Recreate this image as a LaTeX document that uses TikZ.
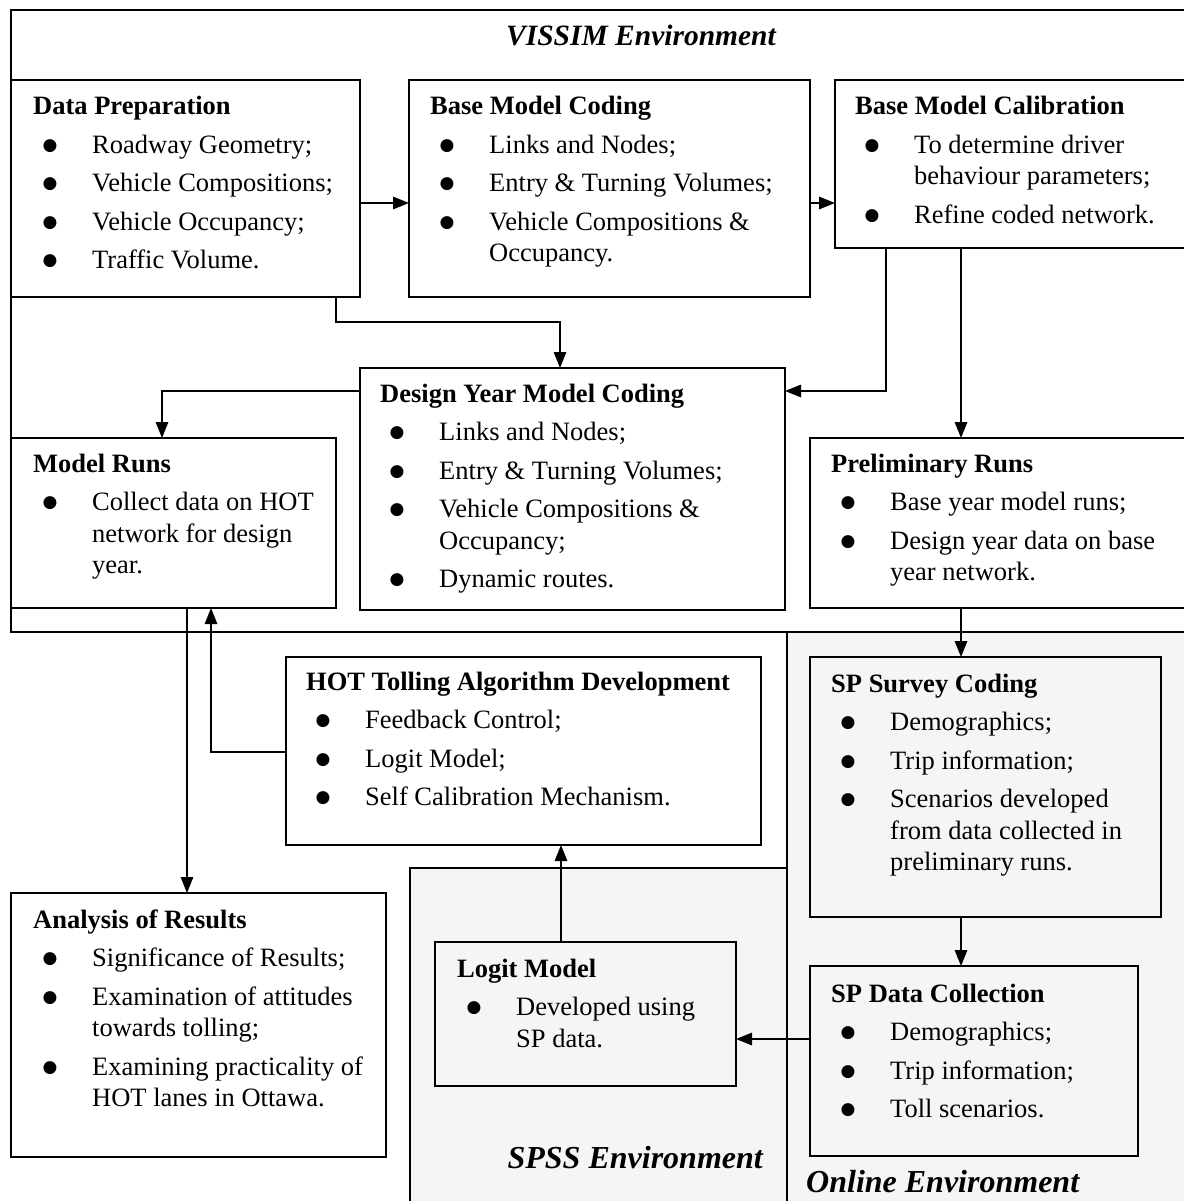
\documentclass[tikz,border=0pt]{standalone}
\usepackage{fontspec}
\setmainfont{Liberation Serif}
\newfontfamily\symfont{DejaVu Sans}
\usetikzlibrary{arrows.meta}
\newcommand{\bodyfont}{\fontsize{26.5pt}{38.5pt}\selectfont}
\newcommand{\bul}{\hbox to 59pt{\hskip 9.5pt\raisebox{3pt}{\symfont\fontsize{17pt}{17pt}\selectfont ●}\hfil}}
\newcommand{\Ttl}[1]{\hbox{\bfseries #1}}
\newcommand{\Itm}[1]{\hbox{\bul #1}}
\newcommand{\Cnt}[1]{\vskip-7pt\hbox{\hskip59pt #1}}
\newcommand{\Content}[1]{\vtop{\baselineskip=38.5pt\lineskiplimit=-100pt\lineskip=0pt #1}}
\tikzset{
  box/.style={draw, line width=1.8pt, inner sep=0pt, outer sep=0pt, rectangle},
  env/.style={draw, line width=2pt, inner sep=0pt, outer sep=0pt, rectangle},
  envfill/.style={env, fill=black!4},
  arr/.style={line width=1.5pt, -{Triangle[length=16pt,width=12.5pt]}},
  envlabel/.style={inner sep=0pt},
  txt/.style={anchor=base west, inner sep=0pt, font=\bodyfont}
}
\newcommand{\bx}[6][box]{\node[#1,anchor=north west,minimum width={(#5-#3)*1pt},minimum height={(#6-#4)*1pt}] (#2) at (#3,#4) {};}
\newcommand{\tx}[4]{\node[txt] (#1) at (#2,#3) {\Content{#4}};}
\begin{document}
\begin{tikzpicture}[x=1pt,y=-1pt]
\useasboundingbox (0,0) rectangle (1183,1201);
% environments
\bx[envfill]{spss}{410}{868}{787}{1215}
\bx[envfill]{online}{787}{632}{1200}{1215}
\bx[env]{vissim}{11}{10}{1200}{632}
\node[envlabel, anchor=base, font=\fontsize{29.5pt}{34pt}\selectfont\bfseries\itshape] (vissimL) at (641,46) {VISSIM Environment};
\node[envlabel, anchor=base east, font=\fontsize{32pt}{36pt}\selectfont\bfseries\itshape] (spssL) at (763,1168) {SPSS Environment};
\node[envlabel, anchor=base west, font=\fontsize{32pt}{36pt}\selectfont\bfseries\itshape] (onlineL) at (806,1192) {Online Environment};
% boxes
\bx{dp}{11}{80}{360}{297}
\bx{bmc}{409}{80}{810}{297}
\bx{bmcal}{835}{80}{1200}{248}
\bx{dymc}{360}{368}{785}{610}
\bx{mr}{11}{438}{336}{608}
\bx{pr}{810}{438}{1200}{608}
\bx{hot}{286}{657}{761}{845}
\bx{spsc}{810}{657}{1161}{917}
\bx{ar}{11}{893}{386}{1157}
\bx{logit}{435}{942}{736}{1086}
\bx{spdc}{810}{966}{1138}{1156}
% texts
\tx{dpT}{33}{115}{\Ttl{Data Preparation}\Itm{Roadway Geometry;}\Itm{Vehicle Compositions;}\Itm{Vehicle Occupancy;}\Itm{Traffic Volume.}}
\tx{bmcT}{430}{115}{\Ttl{Base Model Coding}\Itm{Links and Nodes;}\Itm{Entry \& Turning Volumes;}\Itm{Vehicle Compositions \&}\Cnt{Occupancy.}}
\tx{bmcalT}{855}{115}{\Ttl{Base Model Calibration}\Itm{To determine driver}\Cnt{behaviour parameters;}\Itm{Refine coded network.}}
\tx{dymcT}{380}{402}{\Ttl{Design Year Model Coding}\Itm{Links and Nodes;}\Itm{Entry \& Turning Volumes;}\Itm{Vehicle Compositions \&}\Cnt{Occupancy;}\Itm{Dynamic routes.}}
\tx{mrT}{33}{472}{\Ttl{Model Runs}\Itm{Collect data on HOT}\Cnt{network for design}\Cnt{year.}}
\tx{prT}{831}{472}{\Ttl{Preliminary Runs}\Itm{Base year model runs;}\Itm{Design year data on base}\Cnt{year network.}}
\tx{hotT}{306}{690}{\Ttl{HOT Tolling Algorithm Development}\Itm{Feedback Control;}\Itm{Logit Model;}\Itm{Self Calibration Mechanism.}}
\tx{spscT}{831}{692}{\Ttl{SP Survey Coding}\Itm{Demographics;}\Itm{Trip information;}\Itm{Scenarios developed}\Cnt{from data collected in}\Cnt{preliminary runs.}}
\tx{arT}{33}{928}{\Ttl{Analysis of Results}\Itm{Significance of Results;}\Itm{Examination of attitudes}\Cnt{towards tolling;}\Itm{Examining practicality of}\Cnt{HOT lanes in Ottawa.}}
\tx{logitT}{457}{977}{\Ttl{Logit Model}\Itm{Developed using}\Cnt{SP data.}}
\tx{spdcT}{831}{1002}{\Ttl{SP Data Collection}\Itm{Demographics;}\Itm{Trip information;}\Itm{Toll scenarios.}}
% connectors
\draw[arr] (dp.east |- 0,203) -- (bmc.west |- 0,203);
\draw[arr] (bmc.east |- 0,203) -- (bmcal.west |- 0,203);
\draw[arr] (dp.south -| 336,0) |- (560,322) -- (dymc.north -| 560,0);
\draw[arr] (bmcal.south -| 886,0) |- (dymc.east |- 0,391);
\draw[arr] (bmcal.south -| 961,0) -- (pr.north -| 961,0);
\draw[arr] (dymc.west |- 0,391) -| (mr.north -| 162,0);
\draw[arr] (pr.south -| 961,0) -- (spsc.north -| 961,0);
\draw[arr] (spsc.south -| 961,0) -- (spdc.north -| 961,0);
\draw[arr] (spdc.west |- 0,1039) -- (logit.east |- 0,1039);
\draw[arr] (logit.north -| 561,0) -- (hot.south -| 561,0);
\draw[arr] (hot.west |- 0,752) -| (mr.south -| 211,0);
\draw[arr] (mr.south -| 187,0) -- (ar.north -| 187,0);
\end{tikzpicture}
\end{document}
